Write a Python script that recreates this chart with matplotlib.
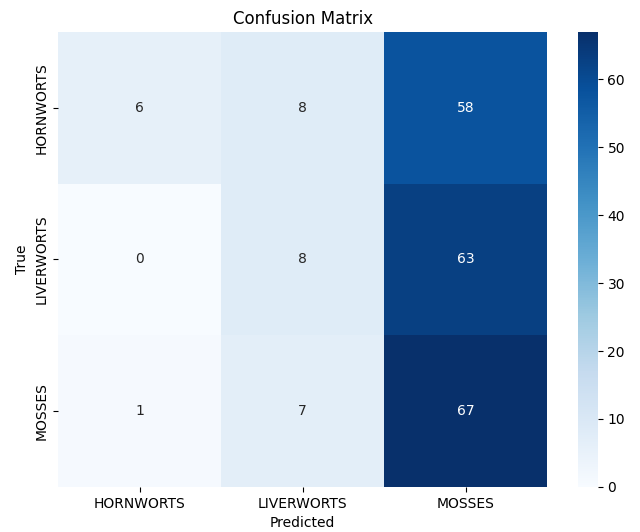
import matplotlib
matplotlib.use("Agg")
import matplotlib.pyplot as plt
import seaborn as sns
import numpy as np

# class names and confusion counts (rows = true, cols = predicted)
classes = ["HORNWORTS", "LIVERWORTS", "MOSSES"]
row_hornworts = [6, 8, 58]
row_liverworts = [0, 8, 63]
row_mosses = [1, 7, 67]

cm = np.array([row_hornworts, row_liverworts, row_mosses])

fig = plt.figure(figsize=(6.4, 5.32), dpi=100)
ax = fig.add_axes([0.091, 0.085, 0.764, 0.855])
cax = fig.add_axes([0.903, 0.085, 0.031, 0.855])

sns.heatmap(cm, annot=True, fmt="d", cmap="Blues",
            xticklabels=classes, yticklabels=classes,
            ax=ax, cbar_ax=cax)

ax.set_title("Confusion Matrix")
ax.set_xlabel("Predicted")
ax.set_ylabel("True")

plt.savefig("out.png", dpi=100)
